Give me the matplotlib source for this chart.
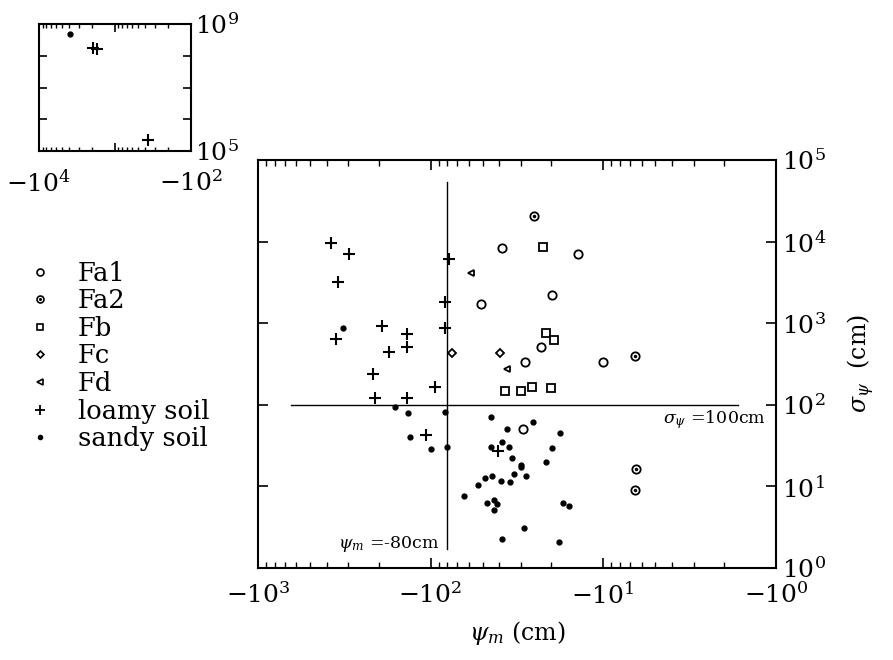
import numpy as np
import matplotlib.pyplot as plt
from matplotlib.ticker import FuncFormatter, LogLocator, NullLocator
from matplotlib.lines import Line2D

plt.rcParams['font.family'] = ['DejaVu Serif']
plt.rcParams['mathtext.fontset'] = 'dejavuserif'

# --- data: psi_m (cm, negative) and sigma_psi (cm) ---
fa1_psi = [-38.5, -14.0, -51.2, -19.9, -22.9, -28.6, -10.1, -29.3]
fa1_sig = [8400, 7050, 1720, 2240, 515, 332, 335, 50]

fa2_psi = [-25.2, -6.6, -6.5, -6.6]
fa2_sig = [20600, 400, 16.2, 9.0]

fb_psi = [-22.3, -21.6, -19.4, -37.1, -30.1, -25.8, -20.1]
fb_sig = [8660, 752, 622, 146, 149, 167, 159]

fc_psi = [-75.6, -39.7]
fc_sig = [428, 428]

fd_psi = [-58.7, -36.0]
fd_sig = [4090, 272]

loamy_psi = [-378, -296, -343, -353, -192, -174, -137, -137, -217, -210,
             -137, -94, -83, -83, -78, -107, -41]
loamy_sig = [9500, 7000, 3200, 640, 920, 440, 730, 515, 240, 120,
             120, 165, 1800, 880, 6200, 43, 27]

sandy_psi = [-321, -160, -135, -83, -132, -100, -80, -44.6, -36.3, -25.7,
             -17.9, -38.5, -44.6, -35.1, -33.8, -19.7, -21.4, -29.9, -29.9, -32.8,
             -28.2, -48.7, -44.3, -39.0, -34.7, -53.2, -64.4, -47.4, -42.8, -41.5,
             -43.0, -17.2, -15.8, -28.8, -38.8, -18.1]
sandy_sig = [880, 95, 79, 82, 40, 28.5, 30, 70, 50, 61.5,
             45, 35, 30, 30.7, 22.3, 29.3, 19.9, 18.3, 17.1, 14.2,
             13.4, 12.7, 13.4, 11.7, 11.2, 10.4, 7.6, 6.3, 6.8, 6.1,
             5.2, 6.2, 5.8, 3.1, 2.25, 2.1]

# points outside the main range (inset)
inset_loamy_psi = [-1970, -1740, -371]
inset_loamy_sig = [1.8e8, 1.6e8, 2.3e5]
inset_sandy_psi = [-3910]
inset_sandy_sig = [4.8e8]

# reference lines
psi_crit = -80
sig_crit = 100

fig = plt.figure(figsize=(8.93, 6.6), dpi=100)
ax = fig.add_axes([0.2889, 0.1394, 0.5801, 0.6182])

def neg(v):
    return -np.asarray(v, dtype=float)

ms = dict(color='black', linestyle='none')
ax.plot(neg(fa1_psi), fa1_sig, marker='o', ms=6, mfc='none', mew=1.3, **ms)
ax.plot(neg(fa2_psi), fa2_sig, marker='o', ms=6, mfc='none', mew=1.3, **ms)
ax.plot(neg(fa2_psi), fa2_sig, marker='o', ms=1.5, **ms)
ax.plot(neg(fb_psi), fb_sig, marker='s', ms=6, mfc='none', mew=1.3, **ms)
ax.plot(neg(fc_psi), fc_sig, marker='D', ms=4, mfc='none', mew=1.3, **ms)
ax.plot(neg(fd_psi), fd_sig, marker='<', ms=5, mfc='none', mew=1.3, **ms)
ax.plot(neg(loamy_psi), loamy_sig, marker='+', ms=9, mew=1.5, **ms)
ax.plot(neg(sandy_psi), sandy_sig, marker='o', ms=3.5, **ms)

ax.plot([-psi_crit, -psi_crit], [1.7, 5.4e4], color='black', lw=1)
ax.plot([640, 1.66], [sig_crit, sig_crit], color='black', lw=1)

ax.text(0.35, 0.058, r'$\psi_m$ =-80cm', transform=ax.transAxes,
        ha='right', va='center', fontsize=12.5)
ax.text(0.98, 0.365, r'$\sigma_\psi$ =100cm', transform=ax.transAxes,
        ha='right', va='center', fontsize=12.5)

ax.set_xscale('log')
ax.set_yscale('log')
ax.set_xlim(1000, 1)
ax.set_ylim(1, 1e5)

xfmt = FuncFormatter(lambda v, _: r'$-10^{%d}$' % round(np.log10(v)))
yfmt = FuncFormatter(lambda v, _: r'$10^{%d}$' % round(np.log10(v)))
ax.xaxis.set_major_locator(LogLocator(base=10, numticks=10))
ax.xaxis.set_major_formatter(xfmt)
ax.yaxis.set_major_locator(LogLocator(base=10, numticks=10))
ax.yaxis.set_major_formatter(yfmt)
ax.yaxis.set_minor_locator(NullLocator())
ax.tick_params(which='both', direction='in', top=True, right=True,
               labelleft=False, labelright=True, labelsize=18)
ax.tick_params(axis='x', pad=10)
ax.tick_params(axis='y', pad=4)
ax.tick_params(which='major', length=7, width=1.2)
ax.tick_params(which='minor', length=4, width=1)
for s in ax.spines.values():
    s.set_linewidth(1.5)

ax.set_xlabel(r'$\psi_m$ (cm)', fontsize=17, labelpad=8)
ax.yaxis.set_label_position('right')
ax.set_ylabel(r'$\sigma_\psi$  (cm)', fontsize=17, labelpad=14)

# inset with the extreme values
ins = fig.add_axes([0.0437, 0.7712, 0.1702, 0.1924])
ins.plot(neg(inset_loamy_psi), inset_loamy_sig, marker='+', ms=9, mew=1.5, **ms)
ins.plot(neg(inset_sandy_psi), inset_sandy_sig, marker='o', ms=3.5, **ms)
ins.set_xscale('log')
ins.set_yscale('log')
ins.set_xlim(1e4, 1e2)
ins.set_ylim(1e5, 1e9)
ins.xaxis.set_major_locator(LogLocator(base=10, numticks=10))
ins.xaxis.set_major_formatter(FuncFormatter(
    lambda v, _: r'$-10^{%d}$' % round(np.log10(v)) if round(np.log10(v)) in (2, 4) else ''))
ins.yaxis.set_major_locator(LogLocator(base=10, numticks=10))
ins.yaxis.set_major_formatter(FuncFormatter(
    lambda v, _: r'$10^{%d}$' % round(np.log10(v)) if round(np.log10(v)) in (5, 9) else ''))
ins.yaxis.set_minor_locator(NullLocator())
ins.tick_params(which='both', direction='in', top=True, right=True,
                labelleft=False, labelright=True, labelsize=18)
ins.tick_params(axis='x', pad=14)
ins.tick_params(axis='y', pad=3)
ins.tick_params(which='major', length=6, width=1.2)
ins.tick_params(which='minor', length=3, width=1)
for s in ins.spines.values():
    s.set_linewidth(1.5)

# legend
handles = [
    Line2D([], [], marker='o', ms=5, mfc='none', mew=1.2, **ms),
    (Line2D([], [], marker='o', ms=5, mfc='none', mew=1.2, **ms),
     Line2D([], [], marker='o', ms=1.2, **ms)),
    Line2D([], [], marker='s', ms=5, mfc='none', mew=1.2, **ms),
    Line2D([], [], marker='D', ms=3.5, mfc='none', mew=1.2, **ms),
    Line2D([], [], marker='<', ms=4, mfc='none', mew=1.2, **ms),
    Line2D([], [], marker='+', ms=7, mew=1.3, **ms),
    Line2D([], [], marker='o', ms=3, **ms),
]
labels = ['Fa1', 'Fa2', 'Fb', 'Fc', 'Fd', 'loamy soil', 'sandy soil']
fig.legend(handles, labels, loc='upper left', bbox_to_anchor=(0.004, 0.64),
           frameon=False, fontsize=18.5, labelspacing=0.1, handlelength=1.0,
           handletextpad=1.0)

fig.savefig('out.png', dpi=100)
